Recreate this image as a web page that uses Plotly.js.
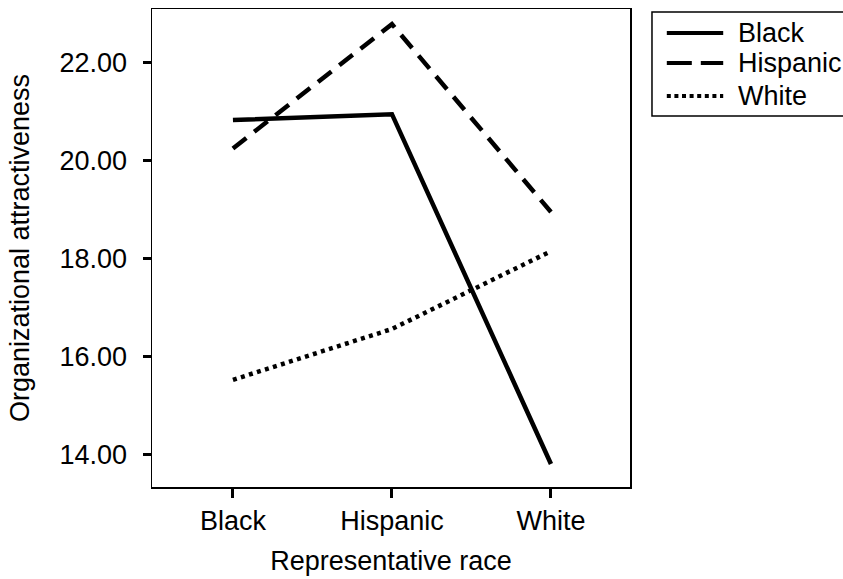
<!DOCTYPE html>
<html>
<head>
<meta charset="utf-8">
<script src="https://cdn.plot.ly/plotly-3.0.1.min.js"></script>
<style>
html,body{margin:0;padding:0;background:#fff;}
#chart{width:843px;height:579px;}
</style>
</head>
<body>
<div id="chart"></div>
<script>
// Data
const representativeRace = ['Black', 'Hispanic', 'White'];
const seriesNames = ['Black', 'Hispanic', 'White'];
const blackValues = [20.83, 20.95, 13.80];
const hispanicValues = [20.25, 22.79, 18.95];
const whiteValues = [15.52, 16.56, 18.15];
const yTickValues = [14, 16, 18, 20, 22];
const yTickLabels = ['14.00', '16.00', '18.00', '20.00', '22.00'];

const FONT = 'Liberation Sans, Arial, Helvetica, sans-serif';
const FS = 27;
const dashStyles = ['solid', '17px,10px', '4px,4.4px'];
const legendDash = ['solid', '25px,9px', '4px,3.6px'];
const allValues = [blackValues, hispanicValues, whiteValues];

const traces = allValues.map((vals, i) => ({
  type: 'scatter',
  mode: 'lines',
  x: representativeRace,
  y: vals,
  name: seriesNames[i],
  line: {color: '#000', width: 4.5, dash: dashStyles[i]},
  hoverinfo: 'skip',
  showlegend: false
}));

// custom legend (paper coords)
const shapes = [{
  type: 'rect', xref: 'paper', yref: 'paper',
  x0: 1.046, x1: 1.46, y0: 0.776, y1: 0.9937,
  line: {color: '#000', width: 1.5}, fillcolor: 'rgba(0,0,0,0)'
}];
const annotations = [];
const legendY = [0.950, 0.887, 0.818];
seriesNames.forEach((n, i) => {
  shapes.push({
    type: 'line', xref: 'paper', yref: 'paper',
    x0: 1.077, x1: 1.195, y0: legendY[i], y1: legendY[i],
    line: {color: '#000', width: 4, dash: legendDash[i]}
  });
  annotations.push({
    xref: 'paper', yref: 'paper', x: 1.222, y: legendY[i],
    xanchor: 'left', yanchor: 'middle', showarrow: false,
    text: n, font: {family: FONT, size: FS, color: '#000'}
  });
});

const layout = {
  width: 843, height: 579,
  margin: {l: 152, r: 213, t: 9, b: 92},
  paper_bgcolor: '#fff', plot_bgcolor: '#fff',
  showlegend: false,
  font: {family: FONT, size: FS, color: '#000'},
  xaxis: {
    type: 'category',
    range: [-0.509, 2.497],
    showgrid: false, zeroline: false,
    showline: true, linecolor: '#000', linewidth: 1.5, mirror: true,
    ticks: 'outside', ticklen: 9, tickwidth: 3, tickcolor: '#000',
    ticklabelstandoff: 0,
    tickfont: {family: FONT, size: FS, color: '#000'},
    title: {text: 'Representative race', font: {family: FONT, size: FS, color: '#000'}, standoff: 16}
  },
  yaxis: {
    range: [13.33, 23.10],
    tickvals: yTickValues, ticktext: yTickLabels,
    showgrid: false, zeroline: false,
    showline: true, linecolor: '#000', linewidth: 1.5, mirror: true,
    ticks: 'outside', ticklen: 8, tickwidth: 3, tickcolor: '#000',
    ticklabelstandoff: 10,
    tickfont: {family: FONT, size: FS, color: '#000'},
    title: {text: 'Organizational attractiveness', font: {family: FONT, size: FS, color: '#000'}, standoff: 22}
  },
  shapes: shapes,
  annotations: annotations
};

Plotly.newPlot('chart', traces, layout, {displayModeBar: false, staticPlot: true});
</script>
</body>
</html>
